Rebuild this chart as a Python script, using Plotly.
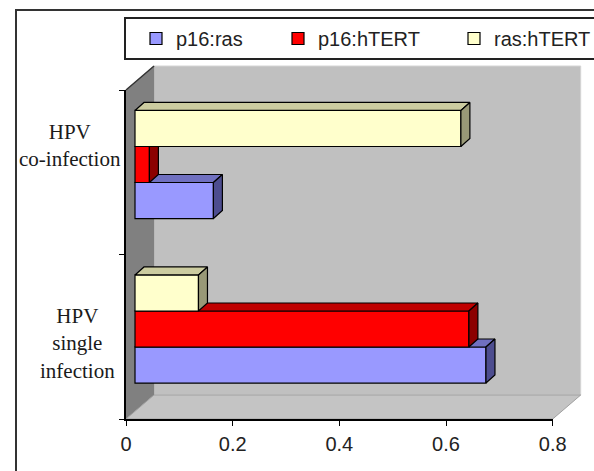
import plotly.graph_objects as go

# ---------------- data ----------------
categories = ["HPV<br>single<br>infection", "HPV<br>co-infection"]
series_names = ["p16:ras", "p16:hTERT", "ras:hTERT"]
p16_ras = [0.658, 0.147]
p16_htert = [0.626, 0.027]
ras_htert = [0.119, 0.611]
x_tick_vals = [0, 0.2, 0.4, 0.6, 0.8]
x_tick_text = ["0", "0.2", "0.4", "0.6", "0.8"]

series_values = [p16_ras, p16_htert, ras_htert]
front_colors = ["#9999ff", "#ff0000", "#ffffcc"]
top_colors = ["#7070c0", "#c00000", "#cccca0"]
side_colors = ["#4d4d8f", "#8c0000", "#999977"]
legend_widths = [87, 121, 100]

# ---------------- geometry (pixels) ----------------
W, H = 594, 471
L, R, T, B = 126, 552.7, 90, 419     # front plot box
DX, DY = 28, 24                       # wall depth
SX, SY = 9, 7.75                      # bar shift (bars sit mid depth)
BX, BY = 9, 8                         # bar depth
XR = [0, 0.8]
YR = [-0.5, 1.5]
bar_w = 0.219

kx = (R - L) / (XR[1] - XR[0])
ky = (B - T) / (YR[1] - YR[0])
dxu, dyu = BX / kx, BY / ky


def px(x):
    return x / W


def py(y):
    return 1 - y / H


fig = go.Figure()
n = len(series_values)
for j, (name, vals) in enumerate(zip(series_names, series_values)):
    ax = str(j + 2)
    xa, ya = "x" + ax, "y" + ax
    ypos = [ci + (j - (n - 1) / 2) * bar_w for ci in range(len(categories))]
    fig.add_trace(go.Bar(
        x=vals, y=ypos, orientation="h", width=bar_w, name=name,
        marker=dict(color=front_colors[j], line=dict(color="#000000", width=1.2)),
        xaxis=xa, yaxis=ya, legendwidth=legend_widths[j], hoverinfo="x+name",
    ))
    for v, yc in zip(vals, ypos):
        yt, yb = yc + bar_w / 2, yc - bar_w / 2
        # top face
        fig.add_trace(go.Scatter(
            x=[0, dxu, v + dxu, v, 0], y=[yt, yt + dyu, yt + dyu, yt, yt],
            fill="toself", fillcolor=top_colors[j], mode="lines",
            line=dict(color="#000000", width=1.2), showlegend=False,
            hoverinfo="skip", xaxis=xa, yaxis=ya))
        # side face
        fig.add_trace(go.Scatter(
            x=[v, v, v + dxu, v + dxu, v], y=[yb, yt, yt + dyu, yb + dyu, yb],
            fill="toself", fillcolor=side_colors[j], mode="lines",
            line=dict(color="#000000", width=1.2), showlegend=False,
            hoverinfo="skip", xaxis=xa, yaxis=ya))

shapes = []
# outer chart border (continues past the right / bottom edges)
shapes.append(dict(type="rect", xref="paper", yref="paper", x0=px(16), y0=py(10),
                   x1=px(660), y1=py(540), line=dict(color="#333333", width=2),
                   fillcolor="rgba(0,0,0,0)", layer="below"))
# back wall
shapes.append(dict(type="rect", xref="paper", yref="paper", x0=px(L + DX), y0=py(T - DY),
                   x1=px(R + DX), y1=py(B - DY), fillcolor="#c0c0c0",
                   line=dict(color="#d4d4d4", width=1), layer="below"))
# side wall
shapes.append(dict(type="path", xref="paper", yref="paper",
                   path=f"M{px(L)},{py(T)} L{px(L+DX)},{py(T-DY)} L{px(L+DX)},{py(B-DY)} L{px(L)},{py(B)} Z",
                   fillcolor="#808080", line=dict(color="#808080", width=0.5), layer="below"))
# floor
shapes.append(dict(type="path", xref="paper", yref="paper",
                   path=f"M{px(L)},{py(B)} L{px(R)},{py(B)} L{px(R+DX)},{py(B-DY)} L{px(L+DX)},{py(B-DY)} Z",
                   fillcolor="#c4c4c4", line=dict(color="#a0a0a0", width=1), layer="below"))
# top edge of side wall
shapes.append(dict(type="line", xref="paper", yref="paper", x0=px(L), y0=py(T),
                   x1=px(L + DX), y1=py(T - DY), line=dict(color="#333333", width=1.5),
                   layer="below"))

# category labels
label_x = [77, 70]
label_shift = [-7, 27]
annotations = []
for i, (cat, lx, sh) in enumerate(zip(categories, label_x, label_shift)):
    annotations.append(dict(
        x=px(lx), xref="paper", y=i, yref="y", yshift=sh, text=cat, showarrow=False,
        xanchor="center", yanchor="middle", align="center",
        font=dict(family="Liberation Serif, Times New Roman, serif", size=21, color="#1a1a1a")))

axis_font = dict(family="Liberation Sans, Arial, sans-serif", size=20, color="#222222")

layout = dict(
    width=W, height=H, autosize=False,
    margin=dict(l=0, r=0, t=0, b=0, pad=0, autoexpand=False),
    paper_bgcolor="white", plot_bgcolor="rgba(0,0,0,0)",
    barmode="overlay",
    shapes=shapes, annotations=annotations,
    xaxis=dict(domain=[px(L), px(R)], range=XR, tickvals=x_tick_vals, ticktext=x_tick_text,
               showgrid=False, zeroline=False, showline=True, linecolor="#000000", linewidth=1.5,
               ticks="outside", ticklen=5, tickcolor="#000000", tickfont=axis_font,
               anchor="y", fixedrange=True, ticklabelstandoff=1, automargin=False),
    yaxis=dict(domain=[py(B), py(T)], range=YR, tickvals=[-0.5, 0.5, 1.5], showticklabels=False,
               showgrid=False, zeroline=False, showline=True, linecolor="#000000", linewidth=1.5,
               ticks="outside", ticklen=5, tickcolor="#000000", anchor="x", fixedrange=True,
               automargin=False),
    legend=dict(orientation="h", x=px(124), y=py(17), xanchor="left", yanchor="top",
                bgcolor="white", bordercolor="#222222", borderwidth=2, font=axis_font,
                indentation=10, itemclick=False, itemdoubleclick=False, traceorder="normal"),
    showlegend=True,
)
for j in range(n):
    ax = str(j + 2)
    layout["xaxis" + ax] = dict(overlaying="x", range=[XR[0] - SX / kx, XR[1] - SX / kx],
                                visible=False, fixedrange=True)
    layout["yaxis" + ax] = dict(overlaying="y", range=[YR[0] - SY / ky, YR[1] - SY / ky],
                                visible=False, fixedrange=True)

fig.update_layout(**layout)
fig.write_html("out.html", config={"responsive": False, "displayModeBar": False})
